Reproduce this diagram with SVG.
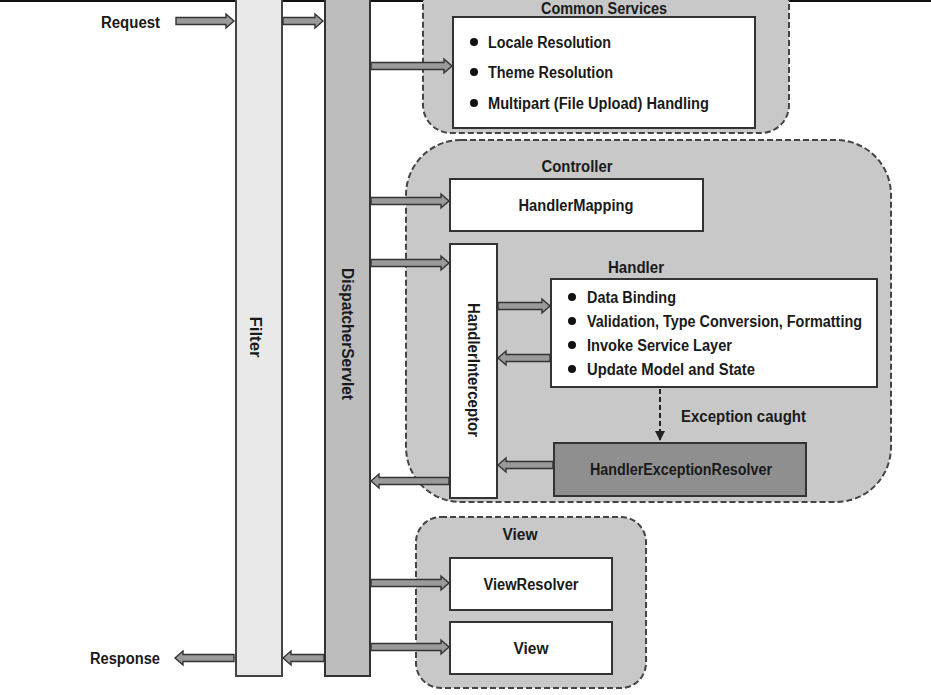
<svg xmlns="http://www.w3.org/2000/svg" width="931" height="695" viewBox="0 0 931 695">
<style>
text{font-family:"Liberation Sans Narrow","Liberation Sans",Arial,sans-serif;font-weight:bold;font-size:16px;fill:#1a1a1a}
.grp{fill:#c8c8c8;stroke:#444;stroke-width:2;stroke-dasharray:6 3}
.box{fill:#fff;stroke:#333;stroke-width:2}
.fat{fill:#9a9a9a;stroke:#333;stroke-width:1.4;stroke-linejoin:miter}
.mid{text-anchor:middle}
</style>
<defs>
<marker id="ah" viewBox="0 0 10 10" refX="9" refY="5" markerWidth="5" markerHeight="5" orient="auto">
<path d="M0,0 L10,5 L0,10 Z" fill="#222"/>
</marker>
</defs>
<rect x="0" y="0" width="931" height="695" fill="#fff"/>
<rect x="0" y="0" width="931" height="2" fill="#111"/>

<g id="common-services">
<rect class="grp" x="423" y="-30" width="366" height="163" rx="28"/>
<text class="mid" x="604" y="14" font-size="15" textLength="126" lengthAdjust="spacingAndGlyphs">Common Services</text>
<rect class="box" x="453" y="17" width="302" height="111"/>
<circle cx="474" cy="42" r="4" fill="#111"/>
<circle cx="474" cy="72" r="4" fill="#111"/>
<circle cx="474" cy="103" r="4" fill="#111"/>
<text x="488" y="48" textLength="123" lengthAdjust="spacingAndGlyphs">Locale Resolution</text>
<text x="488" y="78" textLength="125" lengthAdjust="spacingAndGlyphs">Theme Resolution</text>
<text x="488" y="109" textLength="221" lengthAdjust="spacingAndGlyphs">Multipart (File Upload) Handling</text>
</g>

<g id="controller">
<rect class="grp" x="406" y="140" width="485" height="362" rx="55"/>
<text class="mid" x="577" y="172" textLength="71" lengthAdjust="spacingAndGlyphs">Controller</text>
</g>

<g id="view-group">
<rect class="grp" x="416" y="517" width="230" height="171" rx="25"/>
<text class="mid" x="520" y="540" textLength="35" lengthAdjust="spacingAndGlyphs">View</text>
</g>

<g id="filter">
<rect x="236" y="-2" width="46" height="678" fill="#e9e9e9" stroke="#444" stroke-width="2"/>
<text class="mid" transform="translate(250,337) rotate(90)" textLength="41" lengthAdjust="spacingAndGlyphs">Filter</text>
</g>

<g id="dispatcher-servlet">
<rect x="325" y="-2" width="45" height="678" fill="#bdbdbd" stroke="#333" stroke-width="2"/>
<text class="mid" transform="translate(342,334) rotate(90)" textLength="132" lengthAdjust="spacingAndGlyphs">DispatcherServlet</text>
</g>

<g id="handler-mapping">
<rect class="box" x="450" y="179" width="253" height="52"/>
<text class="mid" x="576" y="211" textLength="115" lengthAdjust="spacingAndGlyphs">HandlerMapping</text>
</g>

<g id="handler-interceptor">
<rect class="box" x="450" y="244" width="47" height="254"/>
<text class="mid" transform="translate(468,370) rotate(90)" textLength="134" lengthAdjust="spacingAndGlyphs">HandlerInterceptor</text>
</g>

<g id="handler">
<text class="mid" x="636" y="273" textLength="56" lengthAdjust="spacingAndGlyphs">Handler</text>
<rect class="box" x="551" y="279" width="326" height="108"/>
<circle cx="572" cy="297" r="4" fill="#111"/>
<circle cx="572" cy="321" r="4" fill="#111"/>
<circle cx="572" cy="345" r="4" fill="#111"/>
<circle cx="572" cy="369" r="4" fill="#111"/>
<text x="587" y="303" textLength="89" lengthAdjust="spacingAndGlyphs">Data Binding</text>
<text x="587" y="327" textLength="275" lengthAdjust="spacingAndGlyphs">Validation, Type Conversion, Formatting</text>
<text x="587" y="351" textLength="145" lengthAdjust="spacingAndGlyphs">Invoke Service Layer</text>
<text x="587" y="375" textLength="168" lengthAdjust="spacingAndGlyphs">Update Model and State</text>
</g>

<g id="handler-exception-resolver">
<rect x="554" y="443" width="252" height="53" fill="#8f8f8f" stroke="#333" stroke-width="2"/>
<text class="mid" x="681" y="475" textLength="182" lengthAdjust="spacingAndGlyphs">HandlerExceptionResolver</text>
</g>

<g id="view-resolver">
<rect class="box" x="450" y="558" width="162" height="52"/>
<text class="mid" x="531" y="590" textLength="95" lengthAdjust="spacingAndGlyphs">ViewResolver</text>
</g>

<g id="view">
<rect class="box" x="450" y="622" width="162" height="52"/>
<text class="mid" x="531" y="654" textLength="35" lengthAdjust="spacingAndGlyphs">View</text>
</g>

<g id="labels">
<text x="101" y="28" textLength="59" lengthAdjust="spacingAndGlyphs">Request</text>
<text x="90" y="664" textLength="70" lengthAdjust="spacingAndGlyphs">Response</text>
<text x="681" y="422" textLength="125" lengthAdjust="spacingAndGlyphs">Exception caught</text>
</g>

<g id="connectors">
<path class="fat" d="M176,17.5 H226 V14 L234,21 L226,28 V24.5 H176 Z"/>
<path class="fat" d="M283,17.5 H315 V14 L323,21 L315,28 V24.5 H283 Z"/>
<path class="fat" d="M371,62.5 H444 V59 L452,66 L444,73 V69.5 H371 Z"/>
<path class="fat" d="M371,197.5 H441 V194 L449,201 L441,208 V204.5 H371 Z"/>
<path class="fat" d="M371,259.5 H441 V256 L449,263 L441,270 V266.5 H371 Z"/>
<path class="fat" d="M498,302.5 H542 V299 L550,306 L542,313 V309.5 H498 Z"/>
<path class="fat" d="M550,354.5 H506 V351 L498,358 L506,365 V361.5 H550 Z"/>
<path class="fat" d="M553,461.5 H506 V458 L498,465 L506,472 V468.5 H553 Z"/>
<path class="fat" d="M449,477.5 H379 V474 L371,481 L379,488 V484.5 H449 Z"/>
<path class="fat" d="M371,579.5 H441 V576 L449,583 L441,590 V586.5 H371 Z"/>
<path class="fat" d="M371,643.5 H441 V640 L449,647 L441,654 V650.5 H371 Z"/>
<path class="fat" d="M234,654.5 H183 V651 L175,658 L183,665 V661.5 H234 Z"/>
<path class="fat" d="M324,654.5 H291 V651 L283,658 L291,665 V661.5 H324 Z"/>
<line x1="660" y1="389" x2="660" y2="440" stroke="#222" stroke-width="2" stroke-dasharray="5 3" marker-end="url(#ah)"/>
</g>
</svg>
